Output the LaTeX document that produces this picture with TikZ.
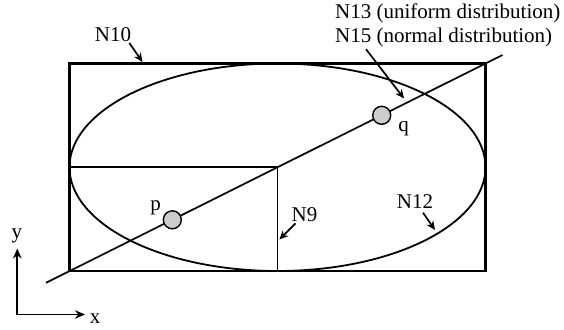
\documentclass[tikz,border=0pt]{standalone}
\usepackage{fontspec}
\setmainfont{Liberation Serif}
\usetikzlibrary{arrows.meta,positioning}

\begin{document}
\begin{tikzpicture}[x=1pt,y=-1pt,
  every node/.style={font=\fontsize{21}{25}\selectfont,inner sep=0pt},
  lbl/.style={anchor=base},
  ptmark/.style={circle,draw,fill=black!20,minimum size=18pt,line width=1.4pt},
  pointer/.style={-{Stealth[length=9pt,width=8pt]},line width=1.7pt},
  axisarrow/.style={{Stealth[length=10pt,width=8.5pt]}-{Stealth[length=10pt,width=8.5pt]},line width=1.9pt}]
\useasboundingbox (0,0) rectangle (564,329);
% box, ellipse and quarter
\coordinate (bl) at (69.5,271);
\coordinate (tr) at (485.5,63.5);
\coordinate (ctr) at (277.5,167.25);
\draw[line width=2.1pt] (bl) rectangle (tr);
\draw[line width=1.8pt] (ctr) ellipse [x radius=208pt, y radius=103.75pt];
\draw[line width=1.9pt] (bl |- ctr) -- (ctr) -- (bl -| ctr);
% line through p and q
\coordinate (lineA) at (46,282.8);
\coordinate (lineB) at (502.5,55);
\draw[line width=1.7pt] (lineA) -- (lineB);
\node[ptmark] (p) at (172.3,219.8) {};
\node[ptmark] (q) at (381.7,115.3) {};
\node[lbl] (plbl) at (155.7,210.5) {p};
\node[lbl] (qlbl) at (403.5,131.5) {q};
% labels with pointers
\node[lbl] (nten) at (113,41.5) {N10};
\node[lbl,anchor=base west] (nthirteen) at (335,18.5) {N13 (uniform distribution)};
\node[lbl,anchor=base west] (nfifteen) at (335,42.5) {N15 (normal distribution)};
\node[lbl] (nnine) at (304.5,221.5) {N9};
\node[lbl] (ntwelve) at (415,208.5) {N12};
\coordinate (tenTip) at (142.5,62);
\coordinate (fifteenTip) at (404,98.5);
\coordinate (nineTip) at (279.3,239.5);
\coordinate (twelveTip) at (435,230);
\draw[pointer] ([xshift=-2pt,yshift=-1pt]nten.south east) -- (tenTip);
\draw[pointer] ([xshift=31pt,yshift=-2pt]nfifteen.south west) -- (fifteenTip);
\draw[pointer] ([xshift=4pt,yshift=-1.5pt]nnine.south west) -- (nineTip);
\draw[pointer] ([xshift=8pt,yshift=-4pt]ntwelve.south) -- (twelveTip);
% axes
\coordinate (origin) at (17.3,314.5);
\coordinate (yTip) at (17.3,248.5);
\coordinate (xTip) at (85,314.5);
\draw[axisarrow] (yTip) -- (origin) -- (xTip);
\node[lbl] (ylbl) at (17,238) {y};
\node[lbl] (xlbl) at (95,323) {x};
\end{tikzpicture}
\end{document}
